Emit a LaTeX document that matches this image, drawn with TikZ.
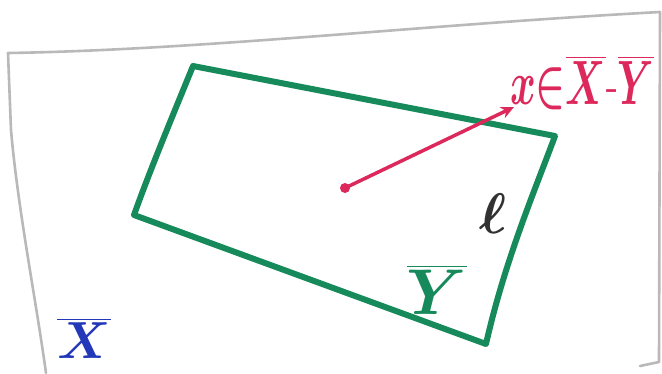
\documentclass[tikz,border=0pt]{standalone}
\usetikzlibrary{arrows.meta}
\usepackage{graphicx}
\definecolor{frameGray}{RGB}{185,185,185}
\definecolor{penGreen}{RGB}{22,138,90}
\definecolor{penRed}{RGB}{220,40,90}
\definecolor{penBlue}{RGB}{35,55,185}
\definecolor{penBlack}{RGB}{50,50,50}
\tikzset{
  framepen/.style={draw=frameGray, line width=2.6pt, line cap=round, line join=round},
  greenpen/.style={draw=penGreen, line width=6pt, line cap=round, line join=round},
  redpen/.style={draw=penRed, line width=3.5pt, line cap=round},
  lbl/.style={inner sep=0pt, font=\Huge\boldmath}
}
\begin{document}
\begin{tikzpicture}[x=1pt,y=-1pt]
\useasboundingbox (0,0) rectangle (662,373);
% outer frame
\coordinate (f1) at (640,366);
\coordinate (f2) at (659,362);
\coordinate (f3) at (660,12);
\coordinate (f4) at (8,53);
\coordinate (f5) at (11,130);
\coordinate (f6) at (46,373);
\draw[framepen] (f1) -- (f2) -- (f3) .. controls (420,25) and (200,50) .. (f4) -- (f5) .. controls (18,210) and (36,300) .. (f6);
% green quadrilateral
\coordinate (A) at (193,66);
\coordinate (B) at (555,136);
\coordinate (C) at (486,344);
\coordinate (D) at (134,215);
\draw[greenpen] (A) -- (B) .. controls (535,190) and (505,260) .. (C) -- (D) .. controls (150,170) and (175,110) .. cycle;
% red arrow
\coordinate (p) at (345,188);
\coordinate (q) at (514,107);
\fill[penRed] (p) circle (5pt);
\draw[redpen, -{Stealth[length=13pt,width=12pt]}] (p) -- (q);
\node[lbl, text=penRed, anchor=south west] (lab) at (510,110) {\resizebox{144pt}{48pt}{$x{\in}\overline{X}{\mbox{-}}\overline{Y}$}};
% labels
\node[lbl, text=penBlack, scale=2.3] (ell) at (493,214) {$\ell$};
\node[lbl, text=penGreen, scale=2.6] (ybar) at (437,290) {$\overline{Y}$};
\node[lbl, text=penBlue, scale=2.1] (xbar) at (84,338) {$\overline{X}$};
\end{tikzpicture}
\end{document}
